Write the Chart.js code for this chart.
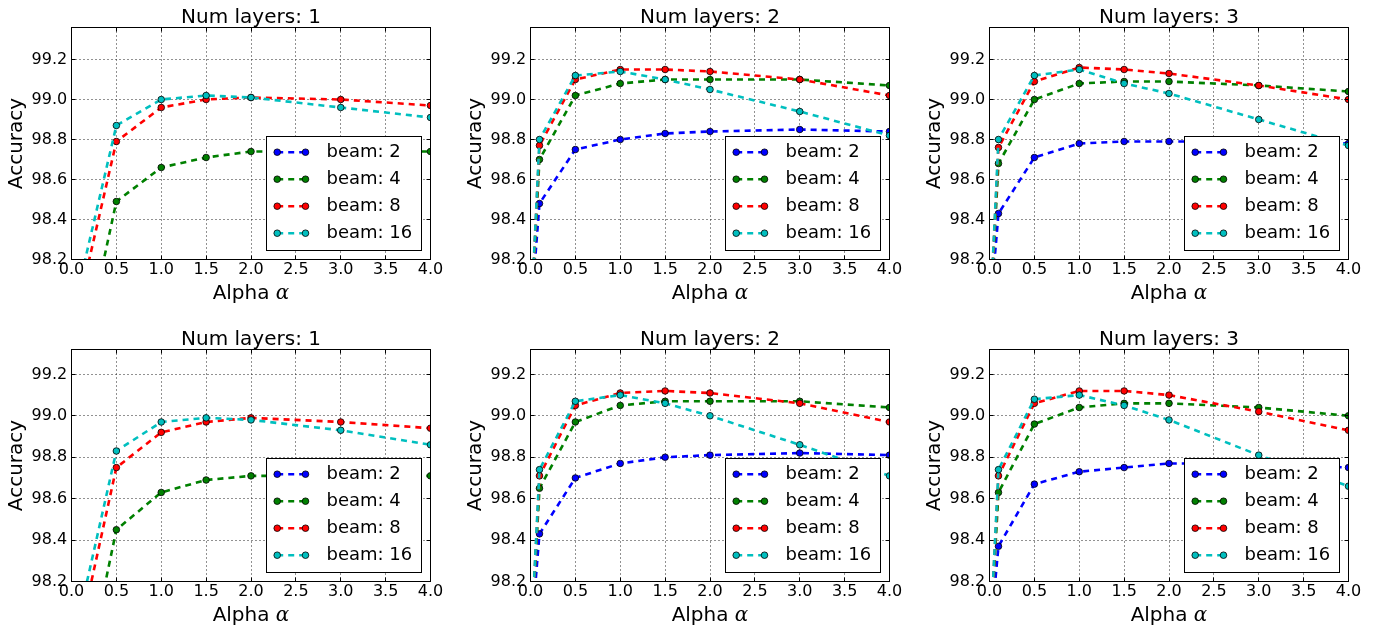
<!DOCTYPE html>
<html>
<head>
<meta charset="utf-8">
<script src="https://cdn.jsdelivr.net/npm/chart.js@4.4.1/dist/chart.umd.min.js"></script>
<style>
  body { margin: 0; background: #fff; }
  #fig { position: relative; width: 1374px; height: 628px; background: #fff; }
  #fig canvas { position: absolute; }
</style>
</head>
<body>
<div id="fig"></div>
<script>
// x positions (alpha) shared by every curve
const alphas = [0, 0.1, 0.5, 1.0, 1.5, 2.0, 3.0, 4.0];
const beams = [2, 4, 8, 16];
const xTicks = [0, 0.5, 1.0, 1.5, 2.0, 2.5, 3.0, 3.5, 4.0];
const yTicks = [98.2, 98.4, 98.6, 98.8, 99.0, 99.2];
const colors = ['#0000ff', '#008000', '#ff0000', '#00bfbf'];

// accuracy per beam size (rows: beam 2, 4, 8, 16) -- first row of panels
const topLayers1 = [
  [96.2, 96.9, 97.6, 97.8, 97.9, 97.95, 97.98, 97.98],
  [96.8, 97.66, 98.49, 98.66, 98.71, 98.74, 98.74, 98.74],
  [97.2, 98.01, 98.79, 98.96, 99.00, 99.01, 99.00, 98.97],
  [97.3, 98.10, 98.87, 99.00, 99.02, 99.01, 98.96, 98.91]
];
const topLayers2 = [
  [97.9, 98.48, 98.75, 98.80, 98.83, 98.84, 98.85, 98.84],
  [97.85, 98.70, 99.02, 99.08, 99.10, 99.10, 99.10, 99.07],
  [97.85, 98.77, 99.10, 99.15, 99.15, 99.14, 99.10, 99.02],
  [97.85, 98.80, 99.12, 99.14, 99.10, 99.05, 98.94, 98.82]
];
const topLayers3 = [
  [97.9, 98.43, 98.71, 98.78, 98.79, 98.79, 98.79, 98.78],
  [97.85, 98.68, 99.00, 99.08, 99.09, 99.09, 99.07, 99.04],
  [97.85, 98.76, 99.09, 99.16, 99.15, 99.13, 99.07, 99.00],
  [97.85, 98.80, 99.12, 99.15, 99.08, 99.03, 98.90, 98.77]
];

// second row of panels
const bottomLayers1 = [
  [96.2, 96.9, 97.6, 97.8, 97.9, 97.95, 97.98, 97.98],
  [96.8, 97.62, 98.45, 98.63, 98.69, 98.71, 98.71, 98.71],
  [97.2, 97.96, 98.75, 98.92, 98.97, 98.99, 98.97, 98.94],
  [97.3, 98.06, 98.83, 98.97, 98.99, 98.98, 98.93, 98.86]
];
const bottomLayers2 = [
  [97.9, 98.43, 98.70, 98.77, 98.80, 98.81, 98.82, 98.81],
  [97.85, 98.65, 98.97, 99.05, 99.07, 99.07, 99.07, 99.04],
  [97.85, 98.71, 99.05, 99.11, 99.12, 99.11, 99.06, 98.97],
  [97.85, 98.74, 99.07, 99.10, 99.06, 99.00, 98.86, 98.71]
];
const bottomLayers3 = [
  [97.9, 98.37, 98.67, 98.73, 98.75, 98.77, 98.77, 98.75],
  [97.85, 98.63, 98.96, 99.04, 99.06, 99.06, 99.04, 99.00],
  [97.85, 98.71, 99.06, 99.12, 99.12, 99.10, 99.02, 98.93],
  [97.85, 98.74, 99.08, 99.10, 99.05, 98.98, 98.81, 98.66]
];

const topYMax = 99.36;
const bottomYMax = 99.32;

// canvas placement and axis box sizes for the 2x3 grid
const panels = [
  { layers: 1, series: topLayers1, yMax: topYMax, left: 0, top: 0, axisW: 71.5, padRight: 27.5, padTop: 27.5, xH: 54.5 },
  { layers: 2, series: topLayers2, yMax: topYMax, left: 458, top: 0, axisW: 72.5, padRight: 26.5, padTop: 27.5, xH: 54.5 },
  { layers: 3, series: topLayers3, yMax: topYMax, left: 916, top: 0, axisW: 73.5, padRight: 25.5, padTop: 27.5, xH: 54.5 },
  { layers: 1, series: bottomLayers1, yMax: bottomYMax, left: 0, top: 314, axisW: 71.5, padRight: 27.5, padTop: 35.5, xH: 46.5 },
  { layers: 2, series: bottomLayers2, yMax: bottomYMax, left: 458, top: 314, axisW: 72.5, padRight: 26.5, padTop: 35.5, xH: 46.5 },
  { layers: 3, series: bottomLayers3, yMax: bottomYMax, left: 916, top: 314, axisW: 73.5, padRight: 25.5, padTop: 35.5, xH: 46.5 }
];

const FONT = '"DejaVu Sans", sans-serif';
Chart.defaults.font.family = FONT;
Chart.defaults.color = '#000';

const snap = v => Math.round(v - 0.5) + 0.5;

// grid, frame, inward ticks, titles and the boxed legend
const panelDecor = {
  id: 'panelDecor',
  beforeDatasetsDraw(chart) {
    const { ctx, chartArea: a, scales: { x, y } } = chart;
    ctx.save();
    ctx.strokeStyle = '#222';
    ctx.lineWidth = 1;
    ctx.setLineDash([1, 3]);
    xTicks.forEach(v => {
      const px = snap(x.getPixelForValue(v));
      ctx.beginPath(); ctx.moveTo(px, a.top); ctx.lineTo(px, a.bottom); ctx.stroke();
    });
    yTicks.forEach(v => {
      const py = snap(y.getPixelForValue(v));
      ctx.beginPath(); ctx.moveTo(a.left, py); ctx.lineTo(a.right, py); ctx.stroke();
    });
    ctx.restore();
  },
  afterDatasetsDraw(chart) {
    const { ctx, chartArea: a, scales: { x, y } } = chart;
    ctx.save();
    ctx.strokeStyle = '#000';
    ctx.lineWidth = 1;
    ctx.beginPath();
    xTicks.forEach(v => {
      const px = snap(x.getPixelForValue(v));
      ctx.moveTo(px, a.bottom); ctx.lineTo(px, a.bottom - 4);
      ctx.moveTo(px, a.top); ctx.lineTo(px, a.top + 4);
    });
    yTicks.forEach(v => {
      const py = snap(y.getPixelForValue(v));
      ctx.moveTo(a.left, py); ctx.lineTo(a.left + 4, py);
      ctx.moveTo(a.right, py); ctx.lineTo(a.right - 4, py);
    });
    ctx.stroke();
    ctx.strokeRect(a.left, a.top, a.right - a.left, a.bottom - a.top);
    ctx.restore();
  },
  afterDraw(chart, args, opts) {
    const { ctx, chartArea: a } = chart;
    const cx = (a.left + a.right) / 2;
    ctx.save();
    ctx.fillStyle = '#000';

    // panel title
    ctx.font = '20px ' + FONT;
    ctx.textAlign = 'center';
    ctx.textBaseline = 'alphabetic';
    ctx.fillText('Num layers: ' + opts.layers, cx, a.top - 4.2);

    // x label: "Alpha" plus an italic alpha
    const word = 'Alpha ';
    const sym = '\u03b1';
    ctx.font = '20px ' + FONT;
    const w1 = ctx.measureText(word).width;
    ctx.font = 'italic 20px "DejaVu Serif", serif';
    const w2 = ctx.measureText(sym).width;
    const x0 = cx - (w1 + w2) / 2;
    ctx.textAlign = 'left';
    ctx.font = '20px ' + FONT;
    ctx.fillText(word, x0, a.bottom + 39);
    ctx.font = 'italic 20px "DejaVu Serif", serif';
    ctx.fillText(sym, x0 + w1, a.bottom + 39);

    // y label
    ctx.font = '20px ' + FONT;
    ctx.textAlign = 'center';
    ctx.translate(a.left - 49.5, (a.top + a.bottom) / 2);
    ctx.rotate(-Math.PI / 2);
    ctx.fillText('Accuracy', 0, 0);
    ctx.setTransform(1, 0, 0, 1, 0, 0);

    // legend box in the lower right corner
    const bw = 155, bh = 114;
    const bx = snap(a.right - 9.5 - bw), by = snap(a.bottom - 9.5 - bh);
    ctx.fillStyle = '#fff';
    ctx.fillRect(bx, by, bw, bh);
    ctx.strokeStyle = '#000';
    ctx.lineWidth = 1;
    ctx.strokeRect(bx, by, bw, bh);
    chart.data.datasets.forEach((ds, i) => {
      const ry = by + 15.7 + i * 27;
      const m1 = bx + 10.7, m2 = bx + 39;
      ctx.save();
      ctx.strokeStyle = ds.borderColor;
      ctx.lineWidth = ds.borderWidth;
      ctx.setLineDash(ds.borderDash);
      ctx.beginPath(); ctx.moveTo(m1, ry); ctx.lineTo(m2, ry); ctx.stroke();
      ctx.setLineDash([]);
      ctx.fillStyle = ds.pointBackgroundColor;
      ctx.strokeStyle = ds.pointBorderColor;
      ctx.lineWidth = ds.pointBorderWidth;
      [m1, m2].forEach(mx => {
        ctx.beginPath(); ctx.arc(mx, ry, ds.pointRadius, 0, Math.PI * 2); ctx.fill(); ctx.stroke();
      });
      ctx.restore();
      ctx.fillStyle = '#000';
      ctx.font = '18px ' + FONT;
      ctx.textAlign = 'left';
      ctx.textBaseline = 'middle';
      ctx.fillText(ds.label, bx + 60, ry);
    });
    ctx.restore();
  }
};

const fig = document.getElementById('fig');

panels.forEach(p => {
  const canvas = document.createElement('canvas');
  canvas.width = 458;
  canvas.height = 314;
  canvas.style.left = p.left + 'px';
  canvas.style.top = p.top + 'px';
  canvas.style.width = '458px';
  canvas.style.height = '314px';
  fig.appendChild(canvas);

  const datasets = p.series.map((vals, i) => ({
    label: 'beam: ' + beams[i],
    data: alphas.map((a, j) => ({ x: a, y: vals[j] })),
    borderColor: colors[i],
    backgroundColor: colors[i],
    pointBackgroundColor: colors[i],
    pointBorderColor: '#000',
    pointBorderWidth: 0.8,
    pointRadius: 3.3,
    borderWidth: 2.6,
    borderDash: [6, 5],
    borderCapStyle: 'butt',
    tension: 0,
    fill: false,
    clip: 0,
    order: beams.length - i
  }));

  new Chart(canvas, {
    type: 'line',
    data: { datasets },
    options: {
      responsive: false,
      animation: false,
      devicePixelRatio: 1,
      layout: { padding: { left: 0, right: p.padRight, top: p.padTop, bottom: 0 } },
      plugins: {
        legend: { display: false },
        tooltip: { enabled: false },
        title: { display: false },
        panelDecor: { layers: p.layers }
      },
      scales: {
        x: {
          type: 'linear',
          min: 0,
          max: 4,
          afterBuildTicks: s => { s.ticks = xTicks.map(v => ({ value: v })); },
          afterFit: s => { s.height = p.xH; },
          grid: { display: false, drawTicks: false },
          border: { display: false },
          ticks: {
            padding: 1,
            autoSkip: false,
            maxRotation: 0,
            font: { size: 16 },
            color: '#000',
            callback: v => v.toFixed(1)
          }
        },
        y: {
          type: 'linear',
          min: 98.2,
          max: p.yMax,
          afterBuildTicks: s => { s.ticks = yTicks.map(v => ({ value: v })); },
          afterFit: s => { s.width = p.axisW; },
          grid: { display: false, drawTicks: false },
          border: { display: false },
          ticks: {
            padding: 4.3,
            font: { size: 16 },
            color: '#000',
            callback: v => v.toFixed(1)
          }
        }
      }
    },
    plugins: [panelDecor]
  });
});
</script>
</body>
</html>
